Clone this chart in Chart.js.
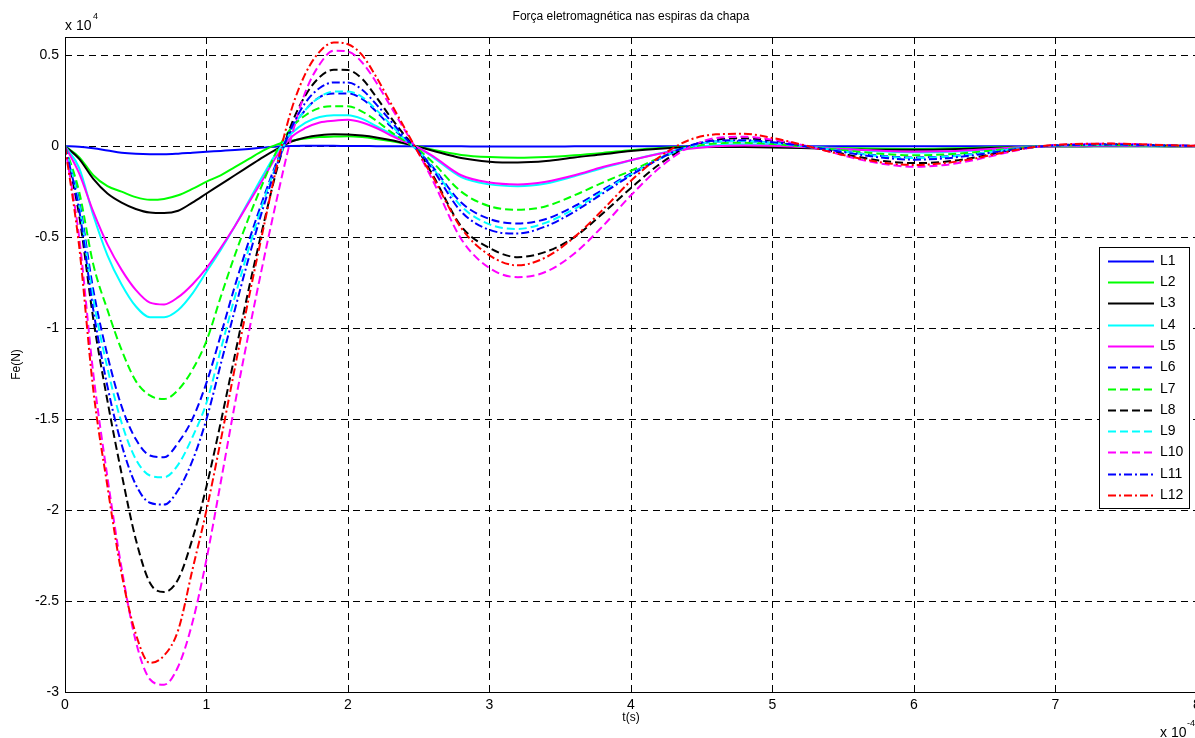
<!DOCTYPE html>
<html>
<head>
<meta charset="utf-8">
<title>Força eletromagnética</title>
<script src="https://cdn.jsdelivr.net/npm/chart.js@4.4.1/dist/chart.umd.min.js"></script>
<style>
    html, body { margin: 0; padding: 0; background: #fff; overflow: hidden; }
    #wrap { width: 1200px; height: 738px; }
</style>
</head>
<body>
<div id="wrap"><canvas id="cvForca" width="1200" height="738"></canvas></div>
<script>
// tempo em unidades de 1e-4 s, forca em unidades de 1e4 N
var arrTempo = [0, 0.1, 0.2, 0.3, 0.4, 0.5, 0.6, 0.7, 0.8, 0.9, 1.0, 1.1, 1.2, 1.3, 1.4, 1.5, 1.6, 1.7, 1.8, 1.9,
    2.0, 2.1, 2.2, 2.3, 2.4, 2.5, 2.6, 2.8, 3.0, 3.2, 3.4, 3.6, 3.8, 4.0, 4.2, 4.4, 4.6, 4.8, 5.0, 5.2,
    5.4, 5.6, 5.8, 6.0, 6.2, 6.4, 6.6, 6.8, 7.0, 7.2, 7.4, 7.6, 7.8, 8.0];

var arrL1 = [0, -0.003, -0.012, -0.024, -0.036, -0.042, -0.044, -0.044, -0.041, -0.036, -0.031, -0.026, -0.021, -0.015, -0.008, -0.002, 0.001, 0.002, 0.002, 0.002,
    0.001, 0.001, 0, 0, 0, 0, 0, -0.001, -0.002, -0.002, -0.002, -0.001, 0, 0, 0, 0, 0, 0, 0, 0,
    0, -0.001, -0.001, -0.001, -0.001, 0, 0, 0, 0, 0, 0, 0, 0, 0];
var arrL2 = [0, -0.06, -0.16, -0.22, -0.25, -0.28, -0.295, -0.29, -0.27, -0.235, -0.195, -0.16, -0.115, -0.07, -0.025, 0.01, 0.03, 0.042, 0.05, 0.053,
    0.055, 0.05, 0.04, 0.028, 0.014, -0.002, -0.02, -0.048, -0.06, -0.064, -0.06, -0.05, -0.037, -0.022, -0.01, -0.003, 0, 0, -0.003, -0.006,
    -0.009, -0.012, -0.014, -0.015, -0.013, -0.01, -0.006, -0.003, -0.001, 0, 0, 0, 0, 0];
var arrL3 = [0, -0.07, -0.18, -0.26, -0.31, -0.345, -0.365, -0.368, -0.355, -0.31, -0.26, -0.21, -0.16, -0.11, -0.06, -0.015, 0.025, 0.048, 0.06, 0.066,
    0.064, 0.058, 0.048, 0.034, 0.016, -0.004, -0.025, -0.065, -0.085, -0.09, -0.082, -0.062, -0.045, -0.027, -0.014, -0.006, -0.004, -0.005, -0.007, -0.01,
    -0.014, -0.018, -0.02, -0.02, -0.018, -0.014, -0.009, -0.004, -0.001, 0, 0.001, 0.001, 0, 0];
var arrL4 = [0, -0.12, -0.38, -0.60, -0.76, -0.88, -0.94, -0.94, -0.90, -0.81, -0.69, -0.57, -0.44, -0.30, -0.16, -0.03, 0.07, 0.13, 0.16, 0.17,
    0.17, 0.15, 0.11, 0.07, 0.03, -0.01, -0.06, -0.17, -0.21, -0.22, -0.205, -0.165, -0.12, -0.077, -0.04, -0.01, 0.005, 0.01, 0.006, -0.002,
    -0.01, -0.02, -0.03, -0.035, -0.032, -0.025, -0.015, -0.005, 0.001, 0.003, 0.004, 0.003, 0.001, 0];
var arrL5 = [0, -0.15, -0.36, -0.54, -0.68, -0.79, -0.86, -0.87, -0.83, -0.76, -0.67, -0.56, -0.44, -0.31, -0.18, -0.05, 0.05, 0.10, 0.13, 0.14,
    0.145, 0.13, 0.10, 0.06, 0.025, -0.01, -0.055, -0.16, -0.20, -0.21, -0.195, -0.16, -0.115, -0.077, -0.042, -0.015, 0, 0.004, 0.002, -0.004,
    -0.012, -0.02, -0.027, -0.03, -0.028, -0.022, -0.013, -0.005, 0, 0.002, 0.003, 0.002, 0.001, 0];
var arrL6 = [0, -0.30, -0.79, -1.15, -1.43, -1.61, -1.70, -1.71, -1.63, -1.50, -1.30, -1.04, -0.77, -0.52, -0.29, -0.08, 0.09, 0.20, 0.27, 0.29,
    0.29, 0.26, 0.19, 0.11, 0.04, -0.03, -0.115, -0.31, -0.40, -0.425, -0.40, -0.33, -0.24, -0.15, -0.07, -0.005, 0.025, 0.027, 0.018, 0.002,
    -0.017, -0.038, -0.055, -0.062, -0.057, -0.044, -0.025, -0.007, 0.003, 0.007, 0.007, 0.005, 0.003, 0.001];
var arrL7 = [0, -0.25, -0.65, -0.90, -1.12, -1.29, -1.37, -1.39, -1.34, -1.23, -1.07, -0.83, -0.60, -0.39, -0.20, -0.02, 0.10, 0.17, 0.21, 0.22,
    0.22, 0.19, 0.14, 0.08, 0.03, -0.02, -0.09, -0.25, -0.33, -0.35, -0.33, -0.27, -0.20, -0.135, -0.065, -0.01, 0.015, 0.019, 0.012, 0,
    -0.014, -0.03, -0.044, -0.05, -0.046, -0.035, -0.02, -0.006, 0.002, 0.005, 0.006, 0.004, 0.002, 0.001];
var arrL8 = [0, -0.38, -0.95, -1.40, -1.80, -2.16, -2.40, -2.45, -2.38, -2.16, -1.87, -1.52, -1.15, -0.78, -0.44, -0.12, 0.12, 0.28, 0.38, 0.42,
    0.418, 0.37, 0.27, 0.16, 0.06, -0.03, -0.16, -0.44, -0.56, -0.61, -0.58, -0.50, -0.37, -0.23, -0.10, -0.005, 0.035, 0.043, 0.03, 0.005,
    -0.025, -0.058, -0.083, -0.093, -0.087, -0.066, -0.037, -0.01, 0.005, 0.01, 0.011, 0.008, 0.004, 0.002];
var arrL9 = [0, -0.32, -0.84, -1.22, -1.52, -1.72, -1.81, -1.82, -1.75, -1.60, -1.41, -1.12, -0.83, -0.56, -0.31, -0.09, 0.09, 0.20, 0.27, 0.30,
    0.30, 0.27, 0.20, 0.12, 0.04, -0.03, -0.12, -0.33, -0.43, -0.455, -0.42, -0.345, -0.25, -0.155, -0.07, -0.005, 0.025, 0.028, 0.018, 0.002,
    -0.018, -0.04, -0.058, -0.065, -0.06, -0.046, -0.026, -0.007, 0.003, 0.007, 0.008, 0.006, 0.003, 0.001];
var arrL10 = [0, -0.50, -1.25, -1.82, -2.32, -2.72, -2.93, -2.96, -2.86, -2.62, -2.27, -1.85, -1.42, -1.02, -0.64, -0.28, 0.05, 0.30, 0.45, 0.525,
    0.52, 0.46, 0.35, 0.22, 0.09, -0.04, -0.19, -0.51, -0.67, -0.72, -0.69, -0.59, -0.44, -0.27, -0.12, -0.01, 0.045, 0.052, 0.035, 0.008,
    -0.03, -0.07, -0.10, -0.113, -0.105, -0.08, -0.045, -0.012, 0.006, 0.012, 0.013, 0.01, 0.005, 0.002];
var arrL11 = [0, -0.35, -0.90, -1.32, -1.64, -1.86, -1.96, -1.97, -1.89, -1.73, -1.50, -1.20, -0.90, -0.61, -0.34, -0.10, 0.10, 0.24, 0.32, 0.35,
    0.35, 0.31, 0.23, 0.14, 0.05, -0.03, -0.13, -0.36, -0.46, -0.48, -0.44, -0.36, -0.26, -0.16, -0.07, 0, 0.03, 0.033, 0.022, 0.003,
    -0.02, -0.045, -0.065, -0.074, -0.068, -0.052, -0.03, -0.008, 0.004, 0.008, 0.009, 0.007, 0.003, 0.001];
var arrL12 = [0, -0.55, -1.34, -1.87, -2.35, -2.68, -2.84, -2.80, -2.66, -2.33, -2.00, -1.62, -1.22, -0.83, -0.46, -0.10, 0.20, 0.40, 0.52, 0.57,
    0.56, 0.50, 0.38, 0.24, 0.10, -0.04, -0.17, -0.45, -0.60, -0.655, -0.61, -0.50, -0.35, -0.19, -0.06, 0.03, 0.065, 0.068, 0.045, 0.01,
    -0.03, -0.065, -0.093, -0.103, -0.095, -0.072, -0.04, -0.01, 0.007, 0.013, 0.014, 0.01, 0.005, 0.002];

var arrLabels = ['L1', 'L2', 'L3', 'L4', 'L5', 'L6', 'L7', 'L8', 'L9', 'L10', 'L11', 'L12'];
var arrSeries = [arrL1, arrL2, arrL3, arrL4, arrL5, arrL6, arrL7, arrL8, arrL9, arrL10, arrL11, arrL12];
var arrTicksX = [0, 1, 2, 3, 4, 5, 6, 7, 8];
var arrTicksY = [-3, -2.5, -2, -1.5, -1, -0.5, 0, 0.5];

var strTitulo = 'Força eletromagnética nas espiras da chapa';
var arrCores = ['#0000ff', '#00ff00', '#000000', '#00ffff', '#ff00ff',
    '#0000ff', '#00ff00', '#000000', '#00ffff', '#ff00ff', '#0000ff', '#ff0000'];
var TRACO = [8, 4];
var TRACO_PONTO = [8, 3, 2, 3];
var arrTracos = [[], [], [], [], [], TRACO, TRACO, TRACO, TRACO, TRACO, TRACO_PONTO, TRACO_PONTO];
var FONTE = '"Liberation Sans", Arial, sans-serif';

function montaDatasets() {
    return arrSeries.map(function (arrValores, i) {
        return {
            label: arrLabels[i],
            data: arrTempo.map(function (t, j) { return {x: t, y: arrValores[j]}; }),
            borderColor: arrCores[i],
            borderWidth: 2,
            borderDash: arrTracos[i],
            pointRadius: 0,
            fill: false,
            cubicInterpolationMode: 'monotone',
            order: arrSeries.length - i
        };
    });
}

// titulo, rotulos dos eixos, expoentes, moldura e legenda
var pluginTextos = {
    id: 'textos',
    afterDraw: function (chart) {
        var ctx = chart.ctx;
        var a = chart.chartArea;
        var cx = (a.left + a.right) / 2;
        ctx.save();
        ctx.strokeStyle = '#000';
        ctx.lineWidth = 1;
        ctx.setLineDash([]);
        ctx.strokeRect(Math.round(a.left) + 0.5, Math.round(a.top) + 0.5,
            Math.round(a.right - a.left), Math.round(a.bottom - a.top));

        ctx.fillStyle = '#000';
        ctx.textAlign = 'center';
        ctx.textBaseline = 'middle';
        ctx.font = '12px ' + FONTE;
        ctx.fillText(strTitulo, cx, 17);
        ctx.fillText('t(s)', cx, 718);
        ctx.save();
        ctx.translate(17, (a.top + a.bottom) / 2);
        ctx.rotate(-Math.PI / 2);
        ctx.fillText('Fe(N)', 0, 0);
        ctx.restore();

        ctx.textAlign = 'left';
        ctx.textBaseline = 'alphabetic';
        ctx.font = '14px ' + FONTE;
        ctx.fillText('x 10', 65, 30);
        ctx.fillText('x 10', 1160, 737);
        ctx.font = '9px ' + FONTE;
        ctx.fillText('4', 93, 19);
        ctx.fillText('-4', 1187, 726);

        // legenda
        var x0 = 1099.5, y0 = 247.5, w = 90, h = 261;
        ctx.fillStyle = '#fff';
        ctx.fillRect(x0, y0, w, h);
        ctx.strokeRect(x0, y0, w, h);
        ctx.font = '14px ' + FONTE;
        ctx.textBaseline = 'middle';
        chart.data.datasets.forEach(function (ds, i) {
            var y = Math.round(260.7 + i * 21.3) + 0.5;
            ctx.strokeStyle = ds.borderColor;
            ctx.lineWidth = 2;
            ctx.setLineDash(ds.borderDash);
            ctx.beginPath();
            ctx.moveTo(1108, y);
            ctx.lineTo(1154, y);
            ctx.stroke();
            ctx.setLineDash([]);
            ctx.fillStyle = '#000';
            ctx.fillText(ds.label, 1160, y);
        });
        ctx.restore();
    }
};

function createChart() {
    var ctx = document.getElementById('cvForca');
    var grade = {color: '#000', lineWidth: 1, drawTicks: false};
    var borda = {display: false, dash: [7, 5]};
    new Chart(ctx, {
        type: 'line',
        data: {datasets: montaDatasets()},
        options: {
            responsive: false,
            animation: false,
            events: [],
            layout: {padding: {top: 37, right: 3, bottom: 0, left: 0}},
            plugins: {legend: {display: false}, title: {display: false}, tooltip: {enabled: false}},
            scales: {
                x: {
                    type: 'linear',
                    min: 0,
                    max: 8,
                    grid: grade,
                    border: borda,
                    afterBuildTicks: function (scale) {
                        scale.ticks = arrTicksX.map(function (v) { return {value: v}; });
                    },
                    afterFit: function (scale) {
                        scale.height = 46;
                        scale.paddingLeft = 0;
                        scale.paddingRight = 0;
                    },
                    ticks: {
                        color: '#000',
                        padding: 5,
                        maxRotation: 0,
                        autoSkip: false,
                        font: {family: FONTE, size: 14},
                        callback: function (v) { return String(v); }
                    }
                },
                y: {
                    type: 'linear',
                    min: -3,
                    max: 0.6,
                    grid: grade,
                    border: borda,
                    afterBuildTicks: function (scale) {
                        scale.ticks = arrTicksY.map(function (v) { return {value: v}; });
                    },
                    afterFit: function (scale) {
                        scale.width = 65;
                        scale.paddingTop = 0;
                        scale.paddingBottom = 0;
                    },
                    ticks: {
                        color: '#000',
                        padding: 6,
                        autoSkip: false,
                        font: {family: FONTE, size: 14},
                        callback: function (v) { return String(v); }
                    }
                }
            }
        },
        plugins: [pluginTextos]
    });
}

createChart();
</script>
</body>
</html>
